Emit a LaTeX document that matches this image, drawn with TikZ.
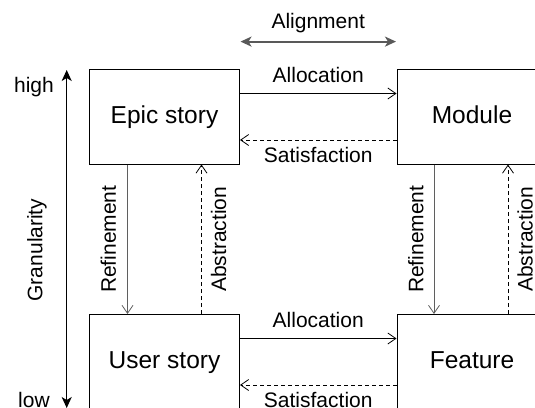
\documentclass[tikz,border=0pt]{standalone}
\usepackage{fontspec}
\setmainfont{Liberation Sans}
\usepackage{tikz}
\usetikzlibrary{arrows.meta, positioning}
\usepackage{xcolor}
\definecolor{linegray}{RGB}{95,95,95}

\begin{document}
\begin{tikzpicture}[x=1pt, y=-1pt,
  box/.style={draw, line width=1pt, minimum width=150pt, minimum height=94.5pt, inner sep=0pt, text height=18.4pt, text depth=4.9pt, font=\fontsize{24.5}{29}\selectfont},
  lbl/.style={inner sep=0pt, font=\fontsize{21}{25}\selectfont},
  link/.style={-{Straight Barb[length=8pt, width=11pt]}, line width=0.8pt},
  back/.style={link, dash pattern=on 4pt off 3pt},
  bigtip/.style={{Stealth[length=11pt, width=10pt, inset=3pt]}-{Stealth[length=11pt, width=10pt, inset=3pt]}}]
\path[use as bounding box, clip] (0,0) rectangle (535,407);
\node[box] (epic) at (164.5,116.75) {Epic story};
\node[box, right=156.5pt of epic] (module) {Module};
\node[box, below=149.5pt of epic] (user) {User story};
\node[box, below=149.5pt of module] (feature) {Feature};
% horizontal links
\draw[link] ([yshift=23.25pt]epic.east) -- node[lbl, above=10pt] {Allocation} ([yshift=23.25pt]module.west);
\draw[back] ([yshift=-23.25pt]module.west) -- node[lbl, below=6.5pt] {Satisfaction} ([yshift=-23.25pt]epic.east);
\draw[link] ([yshift=23.25pt]user.east) -- node[lbl, above=10pt] {Allocation} ([yshift=23.25pt]feature.west);
\draw[back] ([yshift=-23.25pt]feature.west) -- node[lbl, below=6.5pt] {Satisfaction} ([yshift=-23.25pt]user.east);
% vertical links
\draw[link, draw=linegray] ([xshift=-37pt]epic.south) -- node[lbl, rotate=90, anchor=south, yshift=11pt] {Refinement} ([xshift=-37pt]user.north);
\draw[back] ([xshift=37pt]user.north) -- node[lbl, rotate=90, anchor=north, yshift=-9pt] {Abstraction} ([xshift=37pt]epic.south);
\draw[link, draw=linegray] ([xshift=-38pt]module.south) -- node[lbl, rotate=90, anchor=south, yshift=10pt] {Refinement} ([xshift=-38pt]feature.north);
\draw[back] ([xshift=36pt]feature.north) -- node[lbl, rotate=90, anchor=north, yshift=-9pt] {Abstraction} ([xshift=36pt]module.south);
% alignment
\coordinate (alignL) at (240.5,41.6);
\coordinate (alignR) at (396,41.6);
\draw[bigtip, line width=2pt, black!65] (alignL) -- node[lbl, above=8pt, black] {Alignment} (alignR);
% granularity
\coordinate (granTop) at (66.7,70);
\coordinate (granBot) at (66.7,408);
\draw[bigtip, line width=1.2pt] (granTop) -- (granBot);
\node[lbl] (high) at (34,87.5) {high};
\node[lbl] (low) at (34,400) {low};
\node[lbl, rotate=90] (gran) at (37,250) {Granularity};
\end{tikzpicture}
\end{document}
